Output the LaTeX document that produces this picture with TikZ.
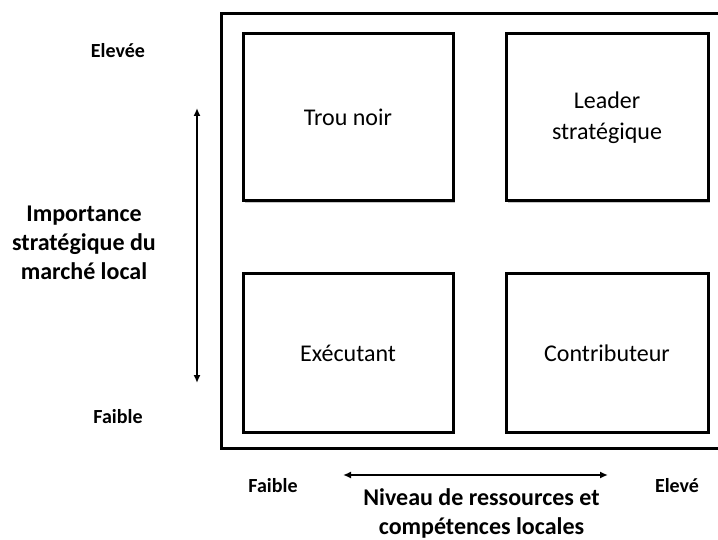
\documentclass[tikz,border=0pt]{standalone}
\usepackage{fontspec}
\setmainfont{Carlito}
\usetikzlibrary{positioning, calc, arrows.meta, shadows}

\begin{document}
\begin{tikzpicture}[
    x=1pt, y=-1pt,
    cell/.style={draw, line width=3pt, rectangle, fill=white,
                 font=\fontsize{24}{31}\selectfont, align=center,
                 drop shadow={shadow xshift=1.6pt, shadow yshift=-1.6pt,
                              opacity=0.22, fill=black}},
    axislabel/.style={font=\bfseries\fontsize{24}{29}\selectfont, align=center, inner sep=0pt},
    endlabel/.style={font=\bfseries\fontsize{20}{24}\selectfont},
    axis/.style={line width=2pt, {Latex[length=8pt,width=7pt]}-{Latex[length=8pt,width=7pt]}},
]
\clip (0,0) rectangle (718,540);

% =================================================================
%  OUTER FRAME
% =================================================================
\node[draw, line width=3pt, rectangle, minimum width=501pt, minimum height=434.5pt,
      inner sep=0pt,
      drop shadow={shadow xshift=1.6pt, shadow yshift=-1.6pt, opacity=0.22, fill=black},
      fill=white]
      (frame) at (471.5, 230.75) {};

% =================================================================
%  QUADRANTS
% =================================================================
\node[cell, minimum width=210pt, minimum height=167pt] (trou)    at (348, 117.5) {Trou noir};
\node[cell, minimum width=202pt, minimum height=167pt] (leader)  at (607, 117.5) {Leader\\strat\'egique};
\node[cell, minimum width=210pt, minimum height=158pt] (exec)    at (348, 353)   {Ex\'ecutant};
\node[cell, minimum width=202pt, minimum height=158pt] (contrib) at (607, 353)   {Contributeur};

% =================================================================
%  VERTICAL AXIS
% =================================================================
\coordinate (vtop) at (197, 108);
\coordinate (vbot) at (197, 383);
\draw[axis] (vbot) -- (vtop);

\node[endlabel]  (vhigh) at (118, 51)  {Elev\'ee};
\node[endlabel]  (vlow)  at (118, 417) {Faible};
\node[axislabel] (vname) at (84, 243)  {Importance\\strat\'egique du\\march\'e local};

% =================================================================
%  HORIZONTAL AXIS
% =================================================================
\coordinate (hleft)  at (343, 475);
\coordinate (hright) at (608, 475);
\draw[axis] (hleft) -- (hright);

\node[endlabel]  (hlow)  at (273, 486)   {Faible};
\node[endlabel]  (hhigh) at (677, 486)   {Elev\'e};
\node[axislabel] (hname) at (481.5, 513) {Niveau de ressources et\\comp\'etences locales};

\end{tikzpicture}
\end{document}
